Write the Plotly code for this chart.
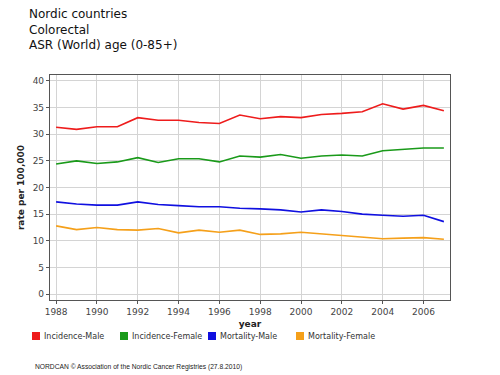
import plotly.graph_objects as go

years = list(range(1988, 2008))
incidence_male = [31.3, 30.9, 31.4, 31.4, 33.1, 32.6, 32.6, 32.2, 32.0, 33.6,
                  32.9, 33.3, 33.1, 33.7, 33.9, 34.2, 35.7, 34.7, 35.4, 34.4]
incidence_female = [24.4, 25.0, 24.5, 24.8, 25.6, 24.7, 25.4, 25.4, 24.8, 25.9,
                    25.7, 26.2, 25.5, 25.9, 26.1, 25.9, 26.9, 27.2, 27.4, 27.4]
mortality_male = [17.3, 16.9, 16.7, 16.7, 17.3, 16.8, 16.6, 16.4, 16.4, 16.1,
                  16.0, 15.8, 15.4, 15.8, 15.5, 15.0, 14.8, 14.6, 14.8, 13.6]
mortality_female = [12.8, 12.1, 12.5, 12.1, 12.0, 12.3, 11.5, 12.0, 11.6, 12.0,
                    11.2, 11.3, 11.6, 11.3, 11.0, 10.8, 10.4, 10.5, 10.6, 10.3]

series_names = ["Incidence-Male", "Incidence-Female", "Mortality-Male", "Mortality-Female"]
series_values = [incidence_male, incidence_female, mortality_male, mortality_female]
colors = ["#ee1c1c", "#1a9a1a", "#1010e0", "#f5a01a"]

FONT = "DejaVu Sans"
W, H = 500, 375
L, R, T, B = 50, 50, 75, 75
PW, PH = W - L - R, H - T - B

def px(xp):
    return (xp - L) / PW

def py(yp):
    return (H - B - yp) / PH

fig = go.Figure()
for name, vals, c in zip(series_names, series_values, colors):
    fig.add_trace(go.Scatter(x=years, y=vals, mode="lines", name=name,
                             line=dict(color=c, width=1.6), showlegend=False))

axis_common = dict(showgrid=True, gridcolor="#d4d4d4", gridwidth=1,
                   showline=True, linecolor="#555555", linewidth=1.2, mirror=True,
                   ticks="outside", ticklen=3, tickcolor="#555555",
                   tickfont=dict(family=FONT, size=9, color="#444444"),
                   zeroline=False, automargin=False)

shapes = []
annotations = [
    dict(text="Nordic countries<br>Colorectal<br>ASR (World) age (0-85+)",
         xref="paper", yref="paper", x=px(27), y=py(5), xanchor="left", yanchor="top",
         showarrow=False, align="left",
         font=dict(family=FONT, size=12, color="#111")),
    dict(text="NORDCAN © Association of the Nordic Cancer Registries (27.8.2010)",
         xref="paper", yref="paper", x=px(33), y=py(367), xanchor="left", yanchor="middle",
         showarrow=False, font=dict(family="Liberation Sans", size=6.7, color="#222")),
]
legend_x = [32, 120, 208, 296]
for name, c, lx in zip(series_names, colors, legend_x):
    shapes.append(dict(type="rect", xref="paper", yref="paper",
                       x0=px(lx), x1=px(lx + 8), y0=py(340), y1=py(332),
                       fillcolor=c, line=dict(width=0)))
    annotations.append(dict(text=name, xref="paper", yref="paper",
                            x=px(lx + 10), y=py(336), xanchor="left", yanchor="middle",
                            showarrow=False,
                            font=dict(family=FONT, size=8, color="#333")))

fig.update_layout(
    width=W, height=H,
    paper_bgcolor="white", plot_bgcolor="white",
    margin=dict(l=L, r=R, t=T, b=B),
    showlegend=False,
    xaxis=dict(range=[1987.7, 2007.3], tickmode="array",
               tickvals=list(range(1988, 2007, 2)),
               title=dict(text="<b>year</b>", font=dict(family=FONT, size=9, color="#222"), standoff=4),
               **axis_common),
    yaxis=dict(range=[-1.1, 41.1], tickmode="array", tickvals=list(range(0, 41, 5)),
               title=dict(text="<b>rate per 100,000</b>", font=dict(family=FONT, size=9, color="#222"), standoff=6),
               **axis_common),
    shapes=shapes,
    annotations=annotations,
)

fig.write_html("out.html", config={"displayModeBar": False},
               post_script="document.body.style.margin='0';document.body.style.padding='0';document.body.style.overflow='hidden';")
